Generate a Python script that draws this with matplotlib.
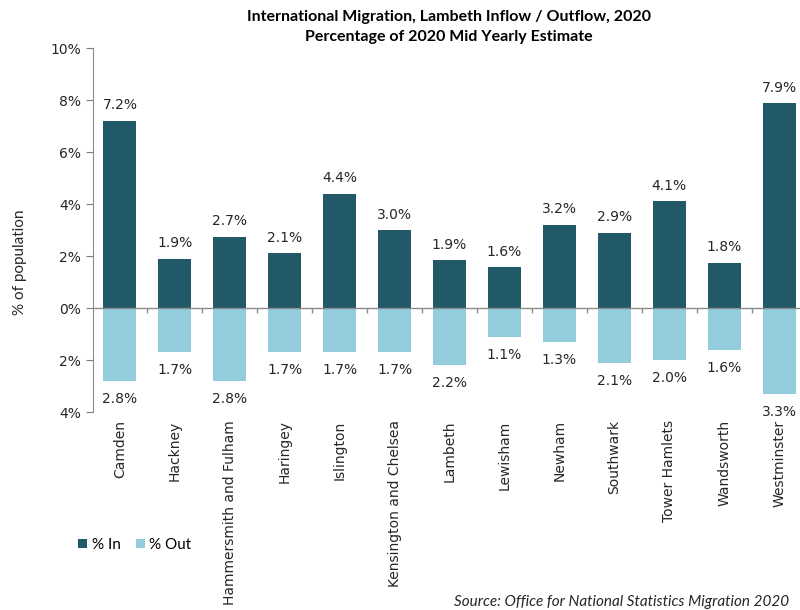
import matplotlib
matplotlib.use("Agg")
import matplotlib.pyplot as plt
import numpy as np
from matplotlib.ticker import FuncFormatter

boroughs = ["Camden", "Hackney", "Hammersmith and Fulham", "Haringey", "Islington",
            "Kensington and Chelsea", "Lambeth", "Lewisham", "Newham", "Southwark",
            "Tower Hamlets", "Wandsworth", "Westminster"]
pct_in = [7.2, 1.9, 2.74, 2.1, 4.4, 3.0, 1.85, 1.57, 3.2, 2.9, 4.1, 1.75, 7.88]
pct_out = [2.8, 1.7, 2.8, 1.7, 1.7, 1.7, 2.2, 1.1, 1.3, 2.1, 2.0, 1.6, 3.3]

c_in = "#215968"
c_out = "#93CDDD"
txt = "#262626"

plt.rcParams['font.family'] = ['DejaVu Sans']
fig = plt.figure(figsize=(8, 6.1), dpi=100)
ax = fig.add_axes([92.5/800, 1-412/610, 714/800, 364/610])

x = np.arange(len(boroughs))
ax.bar(x, pct_in, width=0.6, color=c_in, label="% In", zorder=2)
ax.bar(x, [-v for v in pct_out], width=0.6, color=c_out, label="% Out", zorder=2)

for i, (vi, vo) in enumerate(zip(pct_in, pct_out)):
    ax.annotate(f"{vi:.1f}%", (i, vi), xytext=(0, 6), textcoords="offset points",
                ha="center", va="bottom", fontsize=10, color=txt)
    ax.annotate(f"{vo:.1f}%", (i, -vo), xytext=(0, -8), textcoords="offset points",
                ha="center", va="top", fontsize=10, color=txt)

ax.set_xlim(-0.5, len(boroughs) - 0.5)
ax.set_ylim(-4, 10)
ax.set_yticks(np.arange(-4, 11, 2))
ax.yaxis.set_major_formatter(FuncFormatter(lambda v, p: f"{abs(v):.0f}%"))
ax.tick_params(axis="y", labelsize=10, colors="#7f7f7f", labelcolor=txt, length=5)
ax.set_xticks(x)
ax.set_xticklabels(boroughs, rotation=90, fontsize=10, color=txt)
ax.tick_params(axis="x", length=0, pad=6)

for s in ["top", "right", "bottom"]:
    ax.spines[s].set_visible(False)
ax.spines["left"].set_color("#8c8c8c")
ax.axhline(0, color="#8c8c8c", lw=1, zorder=3)
ax.vlines(x[:-1] + 0.5, -0.18, 0, color="#8c8c8c", lw=1, zorder=3, clip_on=False)

ax.set_ylabel("% of population", fontsize=11, color=txt, family=["Lato", "DejaVu Sans"])
ax.yaxis.set_label_coords(-(92.5 - 27) / 714, (412 - 262) / 364)

fig.text(449/800, 1-17/610, "International Migration, Lambeth Inflow / Outflow, 2020",
         ha="center", va="center", fontsize=11.5, fontweight="bold", family=["Lato", "DejaVu Sans"], color="#000000")
fig.text(449/800, 1-37/610, "Percentage of 2020 Mid Yearly Estimate",
         ha="center", va="center", fontsize=11.5, fontweight="bold", family=["Lato", "DejaVu Sans"], color="#000000")

leg = fig.legend(loc="center left", bbox_to_anchor=(64/800, 1-545/610), ncol=2, frameon=False,
                 prop={"family": ["Lato", "DejaVu Sans"], "size": 11},
                 handlelength=0.6, handleheight=0.6, handletextpad=0.3, columnspacing=1.0)

fig.text(454/800, 1-606/610, "Source: Office for National Statistics Migration 2020",
         ha="left", va="baseline", fontsize=11, style="italic", family=["Lato", "DejaVu Sans"], color=txt)

fig.savefig("out.png", dpi=100)
